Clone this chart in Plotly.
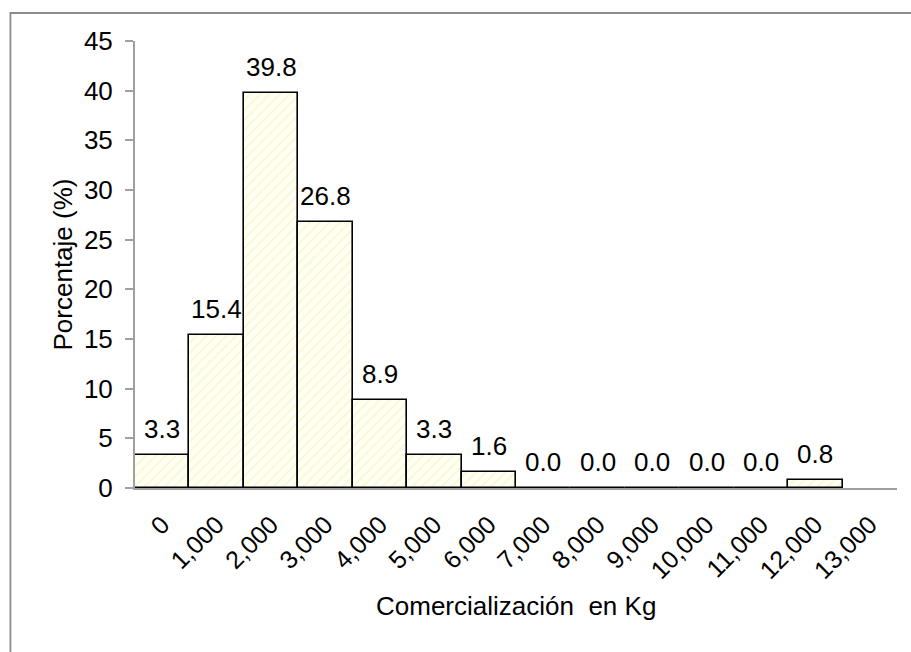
import plotly.graph_objects as go

categories = ["0", "1,000", "2,000", "3,000", "4,000", "5,000", "6,000",
              "7,000", "8,000", "9,000", "10,000", "11,000", "12,000", "13,000"]
percentages = [3.3, 15.4, 39.8, 26.8, 8.9, 3.3, 1.6, 0.0, 0.0, 0.0, 0.0, 0.0, 0.8, None]
y_ticks = [0, 5, 10, 15, 20, 25, 30, 35, 40, 45]

FONT = "Liberation Sans, Arial, sans-serif"

fig = go.Figure()
fig.add_trace(go.Bar(
    x=categories,
    y=percentages,
    marker=dict(
        color="#fffff2",
        line=dict(color="black", width=1.6),
        pattern=dict(shape="/", fgcolor="#f5f0b0", bgcolor="#fffff4",
                     size=7, solidity=0.25, fillmode="overlay"),
    ),
    hoverinfo="skip",
))

annotations = []
for c, v in zip(categories, percentages):
    if v is None:
        continue
    annotations.append(dict(
        x=c, y=v, xref="x", yref="y", text=f"{v:.1f}", showarrow=False,
        yanchor="bottom", yshift=9, font=dict(family=FONT, size=26, color="black"),
    ))

annotations.append(dict(
    x=0.5, y=-0.265, xref="paper", yref="paper", text="Comercialización  en Kg",
    showarrow=False, xanchor="center", yanchor="middle",
    font=dict(family=FONT, size=26, color="black"),
))
annotations.append(dict(
    x=-0.0945, y=0.5, xref="paper", yref="paper", text="Porcentaje (%)",
    showarrow=False, xanchor="center", yanchor="middle", textangle=-90,
    font=dict(family=FONT, size=26, color="black"),
))

fig.update_layout(
    width=911, height=652,
    margin=dict(l=135, r=14, t=41, b=164, autoexpand=False),
    paper_bgcolor="white", plot_bgcolor="white",
    bargap=0, showlegend=False,
    annotations=annotations,
    font=dict(family=FONT, color="black"),
    shapes=[dict(type="rect", xref="paper", yref="paper",
                 x0=-0.1635, x1=1.2, y0=-0.6, y1=1.0626,
                 line=dict(color="#8c8c8c", width=1.8), layer="below")],
)
fig.update_xaxes(
    type="category", categoryorder="array", categoryarray=categories,
    range=[-0.5, 13.5], showline=True, linecolor="#a0a0a0", linewidth=2,
    ticks="", tickangle=-45, showgrid=False, zeroline=False, automargin=False,
    tickfont=dict(family=FONT, size=25, color="black"),
    ticklabelstandoff=10,
)
fig.update_yaxes(
    range=[0, 45], tickvals=y_ticks, showline=True, linecolor="#a0a0a0", linewidth=2,
    ticks="outside", ticklen=8, tickcolor="#a0a0a0", tickwidth=1.5,
    showgrid=False, zeroline=False, automargin=False,
    tickfont=dict(family=FONT, size=26, color="black"),
    ticklabelstandoff=7,
)

fig.write_html(
    "out.html",
    config={"displayModeBar": False},
    post_script="document.body.style.margin='0';document.body.style.overflow='hidden';",
)
